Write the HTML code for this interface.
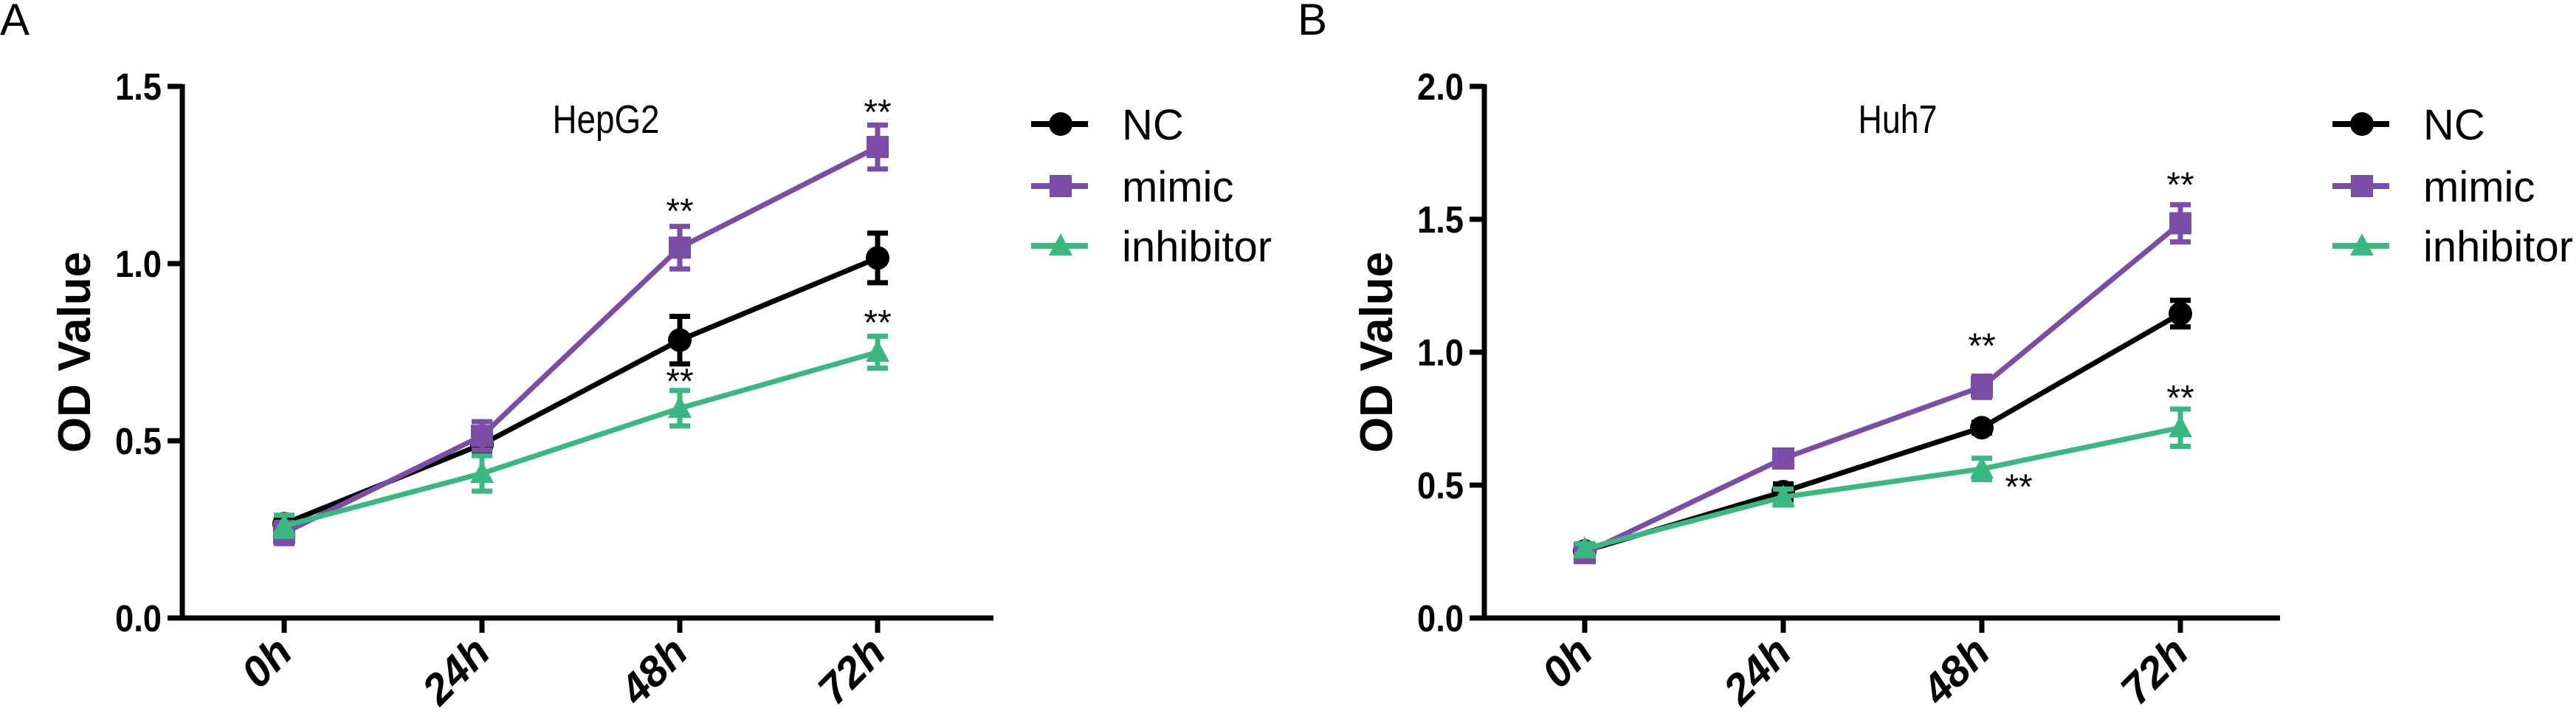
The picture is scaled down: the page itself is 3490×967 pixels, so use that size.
<!DOCTYPE html>
<html><head><meta charset="utf-8"><style>
html,body{margin:0;padding:0;background:#fff;}
svg{display:block;font-family:"Liberation Sans",sans-serif;}
</style></head><body>
<svg id="fig" width="3490" height="967" viewBox="0 0 3490 967" xmlns="http://www.w3.org/2000/svg"></svg>
<script>
const categories = ["0h","24h","48h","72h"];
const seriesNames = ["NC","mimic","inhibitor"];
// Panel A (HepG2)
const hepNC = [0.266,0.49,0.784,1.016];
const hepNCerr = [0.02,0.03,0.067,0.07];
const hepMimic = [0.24,0.514,1.045,1.329];
const hepMimicErr = [0.03,0.04,0.06,0.062];
const hepInh = [0.26,0.408,0.592,0.75];
const hepInhErr = [0.03,0.05,0.05,0.045];
const hepTicks = [0,0.5,1.0,1.5];
const hepTickLabels = ["0.0","0.5","1.0","1.5"];
// Panel B (Huh7)
const huhNC = [0.252,0.475,0.716,1.145];
const huhNCerr = [0.02,0.03,0.02,0.05];
const huhMimic = [0.244,0.6,0.87,1.485];
const huhMimicErr = [0.02,0.03,0.04,0.07];
const huhInh = [0.26,0.455,0.561,0.716];
const huhInhErr = [0.02,0.03,0.04,0.07];
const huhTicks = [0,0.5,1.0,1.5,2.0];
const huhTickLabels = ["0.0","0.5","1.0","1.5","2.0"];
// significance marks: [category index, value position, x offset]
const hepStars = [[2,1.16],[3,1.44],[3,0.846],[2,0.68]];
const huhStars = [[2,1.04],[3,1.646],[3,0.845],[2,0.51,50]];

const NS="http://www.w3.org/2000/svg";
const svg=document.getElementById('fig');
const colors=["#000000","#7B4DA6","#3BB882"];
function mk(tag,attrs,parent){const e=document.createElementNS(NS,tag);for(const k in attrs)e.setAttribute(k,attrs[k]);(parent||svg).appendChild(e);return e;}
function marker(g,type,x,y,c){
  let m;
  if(type===0) m=mk('circle',{cx:x,cy:y,r:16,fill:c},g);
  else if(type===1) m=mk('rect',{x:x-15,y:y-15,width:30,height:30,fill:c},g);
  else m=mk('polygon',{points:`${x},${y-17} ${x+16},${y+13} ${x-16},${y+13}`,fill:c},g);
  return m;
}
function panel(o){
  const g=mk('g',{});
  
  
  const y0=837,yTop=117;
  const ys=v=>y0-(v/o.ymax)*(y0-yTop);
  const xs=i=>o.x0+i*o.dx;
  const L=mk('text',{x:o.letterX,y:47,'font-size':60},g);L.textContent=o.letter;
  
  
  const ax=mk('g',{},g);
  
  
  mk('line',{x1:o.ax,y1:yTop-3,x2:o.ax,y2:y0+3,stroke:'#000','stroke-width':7},ax);
  o.ticks.forEach((t,i)=>{
    const y=ys(t);
    mk('line',{x1:o.ax-20,y1:y,x2:o.ax,y2:y,stroke:'#000','stroke-width':7},ax);
    const tx=mk('text',{x:o.ax-28,y:y+18,'font-size':51,'font-weight':'bold','text-anchor':'end',textLength:o.tl[i].length*22-3,lengthAdjust:'spacingAndGlyphs'},ax);
    tx.textContent=o.tl[i];
    
    
  });
  const xa=mk('g',{},g);
  
  
  mk('line',{x1:o.ax-20,y1:y0,x2:o.axEnd,y2:y0,stroke:'#000','stroke-width':7},xa);
  categories.forEach((c,i)=>{
    const x=xs(i);
    mk('line',{x1:x,y1:y0,x2:x,y2:y0+20,stroke:'#000','stroke-width':7},xa);
    const tx=mk('text',{x:0,y:0,'font-size':58,'font-weight':'bold','font-style':'italic','text-anchor':'end',transform:`translate(${x+14},${y0+50}) rotate(-45)`},xa);
    tx.textContent=c;
    
    
  });
  const yt=mk('text',{x:0,y:0,'font-size':62,'font-weight':'bold','text-anchor':'middle',transform:`translate(${o.ax-125},${(y0+yTop)/2}) rotate(-90)`},g);
  yt.textContent='OD Value';
  
  
  const ti=mk('text',{x:o.titleX,y:180,'font-size':54,'text-anchor':'middle',textLength:o.titleW,lengthAdjust:'spacingAndGlyphs'},g);
  ti.textContent=o.title;
  
  
  [0,1,2].forEach(s=>{
    const sg=mk('g',{},g);
    
    
    const vals=o.data[s],errs=o.err[s],c=colors[s];
    const pts=vals.map((v,i)=>xs(i)+','+ys(v)).join(' ');
    const pl=mk('polyline',{points:pts,fill:'none',stroke:c,'stroke-width':7,'stroke-linejoin':'round'},sg);
    
    
    vals.forEach((v,i)=>{
      const x=xs(i),e=errs[i];
      const eb=mk('path',{d:`M${x},${ys(v+e)}V${ys(v-e)}M${x-14},${ys(v+e)}H${x+14}M${x-14},${ys(v-e)}H${x+14}`,stroke:c,'stroke-width':7,fill:'none'},sg);
      
      
      const m=marker(sg,s,x,ys(v),c);
      
      
    });
  });
  o.stars.forEach(st=>{
    const t=mk('text',{x:xs(st[0])+(st[2]||0),y:ys(st[1])+22,'font-size':48,'text-anchor':'middle'},g);
    t.textContent='**';
    
    
  });
  const lg=mk('g',{},g);
  
  
  const ly=[168,252,333];
  seriesNames.forEach((n,s)=>{
    const eg=mk('g',{},lg);
    
    
    mk('line',{x1:o.legX,y1:ly[s],x2:o.legX+77,y2:ly[s],stroke:colors[s],'stroke-width':8},eg);
    marker(eg,s,o.legX+40,ly[s],colors[s]);
    const t=mk('text',{x:o.legX+123,y:ly[s]+21,'font-size':58},eg);
    t.textContent=n;
  });
}
panel({name:'panel-a-hepg2',letter:'A',letterX:0,ax:247,axEnd:1346,x0:385,dx:268,ymax:1.5,ticks:hepTicks,tl:hepTickLabels,
  title:'HepG2',titleX:821,titleW:145,data:[hepNC,hepMimic,hepInh],err:[hepNCerr,hepMimicErr,hepInhErr],stars:hepStars,legX:1397});
panel({name:'panel-b-huh7',letter:'B',letterX:1758,ax:2011,axEnd:3089,x0:2147,dx:269,ymax:2.0,ticks:huhTicks,tl:huhTickLabels,
  title:'Huh7',titleX:2571,titleW:107,data:[huhNC,huhMimic,huhInh],err:[huhNCerr,huhMimicErr,huhInhErr],stars:huhStars,legX:3160});
</script>
</body></html>
